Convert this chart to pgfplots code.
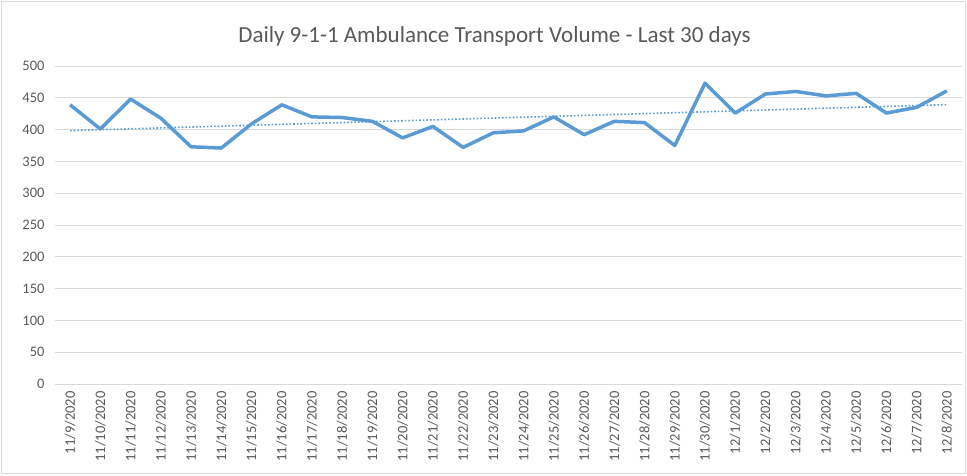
\documentclass[border=0pt]{standalone}
\usepackage{pgfplots}
\usepackage{pgfplotstable}
\pgfplotsset{compat=1.18}
\usepackage{fontspec}
\setmainfont{Carlito}
\definecolor{lineblue}{HTML}{5B9BD5}
\definecolor{gridgray}{HTML}{D9D9D9}
\definecolor{txtgray}{HTML}{595959}
\pgfplotstableread{
x y
0 439
1 401
2 448
3 418
4 373
5 371
6 409
7 439
8 420
9 419
10 413
11 387
12 405
13 372
14 395
15 398
16 420
17 392
18 413
19 411
20 375
21 473
22 426
23 456
24 460
25 453
26 457
27 426
28 435
29 461
}\datatable
\begin{document}
\begin{tikzpicture}[x=1pt,y=1pt]
\begin{axis}[
  name=ax,
  at={(0,0)}, anchor=south west,
  scale only axis,
  width=907pt, height=318pt,
  xmin=-0.5, xmax=29.5,
  ymin=0, ymax=500,
  ytick={0,50,...,500},
  xtick={0,...,29},
  xticklabels={11/9/2020,11/10/2020,11/11/2020,11/12/2020,11/13/2020,11/14/2020,11/15/2020,11/16/2020,11/17/2020,11/18/2020,11/19/2020,11/20/2020,11/21/2020,11/22/2020,11/23/2020,11/24/2020,11/25/2020,11/26/2020,11/27/2020,11/28/2020,11/29/2020,11/30/2020,12/1/2020,12/2/2020,12/3/2020,12/4/2020,12/5/2020,12/6/2020,12/7/2020,12/8/2020},
  x tick label style={rotate=90, anchor=east, font=\fontsize{14.5}{16}\selectfont, text=txtgray, xshift=-4pt},
  y tick label style={font=\fontsize{14.5}{16}\selectfont, text=txtgray, xshift=-7pt},
  /pgf/number format/assume math mode=true,
  major tick length=0pt,
  axis line style={draw=none},
  ymajorgrids,
  grid style={gridgray, line width=1pt},
  title={Daily 9-1-1 Ambulance Transport Volume - Last 30 days},
  title style={font=\fontsize{23}{26}\selectfont, text=txtgray, at={(0.5,1)}, anchor=south, yshift=10pt, xshift=-14pt},
  clip=false,
]
\addplot[lineblue, line width=3.5pt, line join=round] table[x=x,y=y] {\datatable};
\addplot[lineblue, line width=1.6pt, dotted] table[x=x, y={create col/linear regression={y=y}}] {\datatable};
\end{axis}
\draw[gridgray, line width=1pt] (-53.5,-89.5) rectangle ++(964,472);
\path[use as bounding box] (-55,-91) rectangle ++(967,475);
\end{tikzpicture}
\end{document}
